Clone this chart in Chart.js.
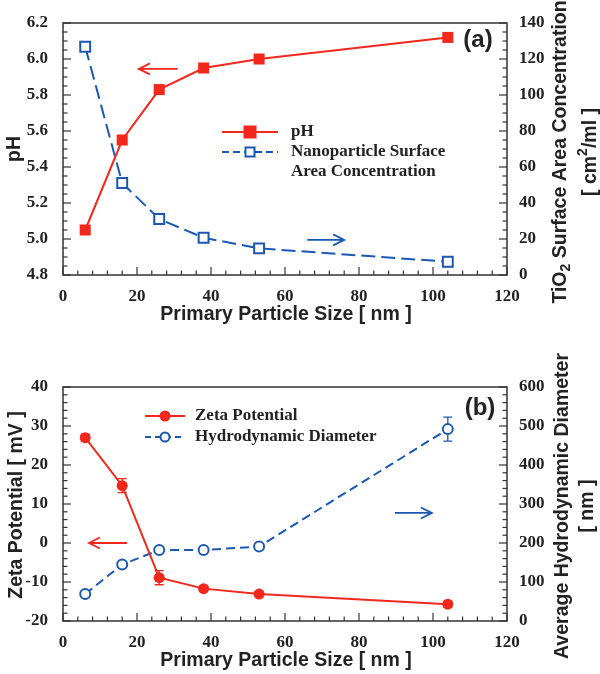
<!DOCTYPE html>
<html>
<head>
<meta charset="utf-8">
<script src="https://cdn.jsdelivr.net/npm/chart.js@4.4.1/dist/chart.umd.min.js"></script>
<style>
  html, body { margin: 0; padding: 0; background: #fff; }
  .panel { position: absolute; left: 0; width: 600px; }
  #wrapA { top: 0; height: 330px; }
  #wrapB { top: 330px; height: 344px; }
</style>
</head>
<body>
<div id="wrapA" class="panel"><canvas id="chartA" width="600" height="330"></canvas></div>
<div id="wrapB" class="panel"><canvas id="chartB" width="600" height="344"></canvas></div>
<script>
// primary particle size [nm]
var sizes = [6, 16, 26, 38, 53, 104];

// panel (a)
var phValues = [5.05, 5.55, 5.83, 5.95, 6.00, 6.12];
var areaValues = [126.8, 51.1, 31.1, 20.7, 14.8, 7.4];

// panel (b)
var zetaValues = [27.0, 14.7, -8.9, -11.7, -13.1, -15.7];
var zetaErrors = [0.9, 1.8, 1.8, 0.6, 0.6, 0.8];
var diameterValues = [69, 145, 182, 182, 191, 492];
var diameterErrors = [0, 0, 6, 0, 0, 31];

var xTicks = [0, 20, 40, 60, 80, 100, 120];

var red = '#f2281c';
var blue = '#1b58b4';
var ink = '#222';
var serif = '"Liberation Serif", "Times New Roman", serif';
var sans = '"Liberation Sans", Arial, sans-serif';
var titleSize = 19.5;

function pts(xs, ys) {
  return xs.map(function (x, i) { return { x: x, y: ys[i] }; });
}

// draws a text made of pieces (normal / sub / sup), centred on x=0, baseline y=0
function richText(ctx, parts, size) {
  var small = Math.round(size * 0.7);
  var w = 0;
  parts.forEach(function (p) {
    ctx.font = 'bold ' + (p.s ? small : size) + 'px ' + sans;
    p.w = ctx.measureText(p.t).width;
    w += p.w;
  });
  var x = -w / 2;
  ctx.textAlign = 'left';
  ctx.textBaseline = 'alphabetic';
  parts.forEach(function (p) {
    ctx.font = 'bold ' + (p.s ? small : size) + 'px ' + sans;
    var dy = p.s === 'sub' ? size * 0.22 : (p.s === 'sup' ? -size * 0.45 : 0);
    ctx.fillText(p.t, x, dy);
    x += p.w;
  });
}

function arrow(ctx, x1, y1, x2, y2, color) {
  var dir = x2 > x1 ? 1 : -1;
  ctx.save();
  ctx.strokeStyle = color;
  ctx.lineWidth = 1.8;
  ctx.beginPath();
  ctx.moveTo(x1, y1);
  ctx.lineTo(x2, y2);
  ctx.moveTo(x2 - dir * 11, y2 - 5.5);
  ctx.lineTo(x2, y2);
  ctx.lineTo(x2 - dir * 11, y2 + 5.5);
  ctx.stroke();
  ctx.restore();
}

function marker(ctx, style, filled, color, x, y, size) {
  ctx.save();
  ctx.lineWidth = 2;
  ctx.strokeStyle = color;
  ctx.fillStyle = filled ? color : '#fff';
  ctx.beginPath();
  if (style === 'rect') ctx.rect(x - size / 2, y - size / 2, size, size);
  else ctx.arc(x, y, size / 2, 0, Math.PI * 2);
  ctx.fill();
  ctx.stroke();
  ctx.restore();
}

function makePanel(canvasId, spec) {
  var decorations = {
    id: 'decor' + canvasId,
    beforeDatasetsDraw: function (chart) {
      var ctx = chart.ctx;
      (spec.errors || []).forEach(function (e) {
        var meta = chart.getDatasetMeta(e.dataset);
        var sc = chart.scales[e.axis];
        ctx.save();
        ctx.strokeStyle = e.color;
        ctx.lineWidth = 1.3;
        meta.data.forEach(function (pt, i) {
          var v = e.values[i], err = e.errors[i];
          if (!err) return;
          var yt = sc.getPixelForValue(v + err), yb = sc.getPixelForValue(v - err);
          ctx.beginPath();
          ctx.moveTo(pt.x, yt); ctx.lineTo(pt.x, yb);
          ctx.moveTo(pt.x - 4.5, yt); ctx.lineTo(pt.x + 4.5, yt);
          ctx.moveTo(pt.x - 4.5, yb); ctx.lineTo(pt.x + 4.5, yb);
          ctx.stroke();
        });
        ctx.restore();
      });
    },
    afterDraw: function (chart) {
      var ctx = chart.ctx, a = chart.chartArea;
      ctx.save();
      // frame
      ctx.strokeStyle = '#333';
      ctx.lineWidth = 1.5;
      ctx.strokeRect(a.left, a.top, a.right - a.left, a.bottom - a.top);
      // inward ticks
      ctx.lineWidth = 1.2;
      Object.keys(spec.ticks).forEach(function (id) {
        var t = spec.ticks[id], sc = chart.scales[id];
        var n = Math.round((sc.max - sc.min) / t.minor);
        for (var i = 0; i <= n; i++) {
          var v = sc.min + i * t.minor;
          var isMajor = Math.abs(v / t.major - Math.round(v / t.major)) < 1e-6;
          var len = isMajor ? 8 : 4.5;
          var p = sc.getPixelForValue(v);
          ctx.beginPath();
          if (id === 'x') { ctx.moveTo(p, a.bottom); ctx.lineTo(p, a.bottom - len); }
          else if (id === 'y') { ctx.moveTo(a.left, p); ctx.lineTo(a.left + len, p); }
          else { ctx.moveTo(a.right, p); ctx.lineTo(a.right - len, p); }
          ctx.stroke();
        }
      });
      ctx.restore();

      // axis titles
      ctx.save();
      ctx.fillStyle = ink;
      ctx.textAlign = 'center';
      ctx.textBaseline = 'alphabetic';
      ctx.font = 'bold ' + titleSize + 'px ' + sans;
      ctx.fillText('Primary Particle Size [ nm ]', (a.left + a.right) / 2 + 1, spec.xTitleY);
      ctx.save();
      ctx.translate(spec.yTitleX, spec.yTitleCy);
      ctx.rotate(-Math.PI / 2);
      ctx.fillText(spec.yTitle, 0, 0);
      ctx.restore();
      spec.y2Title.forEach(function (line, k) {
        ctx.save();
        ctx.translate(spec.y2TitleX[k], spec.y2TitleCy);
        ctx.rotate(-Math.PI / 2);
        richText(ctx, line, titleSize);
        ctx.restore();
      });
      // panel tag
      ctx.font = 'bold 24px ' + sans;
      ctx.textAlign = 'center';
      ctx.textBaseline = 'middle';
      ctx.fillText(spec.tag, spec.tagPos[0], spec.tagPos[1]);
      ctx.restore();

      // arrows (data coordinates)
      spec.arrows.forEach(function (ar) {
        var sx = chart.scales.x, sy = chart.scales[ar.axis];
        arrow(ctx, sx.getPixelForValue(ar.from), sy.getPixelForValue(ar.y),
          sx.getPixelForValue(ar.to), sy.getPixelForValue(ar.y), ar.color);
      });

      // legend
      var lg = spec.legend;
      lg.items.forEach(function (it, k) {
        var y = lg.rows[k];
        ctx.save();
        ctx.strokeStyle = it.color;
        ctx.lineWidth = 2;
        ctx.setLineDash(it.dash || []);
        ctx.beginPath();
        ctx.moveTo(lg.x1, y); ctx.lineTo(lg.x2, y);
        ctx.stroke();
        ctx.setLineDash([]);
        marker(ctx, it.style, it.filled, it.color, (lg.x1 + lg.x2) / 2, y, it.size);
        ctx.fillStyle = ink;
        ctx.font = 'bold 17px ' + serif;
        ctx.textAlign = 'left';
        ctx.textBaseline = 'middle';
        it.lines.forEach(function (txt, j) {
          ctx.fillText(txt, lg.textX, y + j * lg.lineGap);
        });
        ctx.restore();
      });
    }
  };

  function fixWidth(w) { return function (s) { s.width = w; }; }

  return new Chart(document.getElementById(canvasId), {
    type: 'line',
    data: { datasets: spec.datasets },
    options: {
      responsive: false,
      animation: false,
      events: [],
      layout: { padding: { top: spec.top, left: 0, right: 0, bottom: 0 } },
      plugins: { legend: { display: false }, tooltip: { enabled: false } },
      scales: {
        x: {
          type: 'linear', min: 0, max: 120,
          afterFit: function (s) { s.height = spec.xHeight; },
          afterBuildTicks: function (s) { s.ticks = xTicks.map(function (v) { return { value: v }; }); },
          grid: { display: false }, border: { display: false },
          ticks: { color: ink, font: { family: serif, size: 17, weight: 'bold' }, padding: 3, maxRotation: 0, autoSkip: false }
        },
        y: {
          type: 'linear', position: 'left', min: spec.yRange[0], max: spec.yRange[1],
          afterFit: fixWidth(63),
          grid: { display: false }, border: { display: false },
          ticks: {
            stepSize: spec.yStep, color: ink, padding: 7, autoSkip: false,
            font: { family: serif, size: 17, weight: 'bold' },
            callback: function (v) { return v.toFixed(spec.yDecimals); }
          }
        },
        y2: {
          type: 'linear', position: 'right', min: spec.y2Range[0], max: spec.y2Range[1],
          afterFit: fixWidth(93),
          grid: { display: false }, border: { display: false },
          ticks: {
            stepSize: spec.y2Step, color: ink, padding: 4, autoSkip: false,
            font: { family: serif, size: 17, weight: 'bold' }
          }
        }
      }
    },
    plugins: [decorations]
  });
}

makePanel('chartA', {
  top: 23, xHeight: 55,
  yRange: [4.8, 6.2], yStep: 0.2, yDecimals: 1,
  y2Range: [0, 140], y2Step: 20,
  ticks: { x: { minor: 4, major: 20 }, y: { minor: 0.05, major: 0.2 }, y2: { minor: 5, major: 20 } },
  xTitleY: 320, yTitle: 'pH', yTitleX: 20, yTitleCy: 149,
  y2Title: [
    [{ t: 'TiO' }, { t: '2', s: 'sub' }, { t: ' Surface Area Concentration' }],
    [{ t: '[ cm' }, { t: '2', s: 'sup' }, { t: '/ml ]' }]
  ],
  y2TitleX: [566, 596], y2TitleCy: 152,
  tag: '(a)', tagPos: [478, 40],
  arrows: [
    { from: 31, to: 20.5, y: 5.945, axis: 'y', color: red },
    { from: 66, to: 76, y: 19.5, axis: 'y2', color: blue }
  ],
  legend: {
    x1: 222, x2: 278, textX: 291, rows: [132, 152], lineGap: 19.5,
    items: [
      { lines: ['pH'], color: red, style: 'rect', filled: true, size: 11 },
      { lines: ['Nanoparticle Surface', 'Area Concentration'], color: blue, style: 'rect', filled: false, size: 9, dash: [7, 4] }
    ]
  },
  datasets: [
    {
      label: 'pH', data: pts(sizes, phValues), yAxisID: 'y',
      borderColor: red, borderWidth: 2, backgroundColor: red,
      pointStyle: 'rect', pointRadius: 7.8, pointBorderWidth: 0, pointBackgroundColor: red
    },
    {
      label: 'Nanoparticle Surface Area Concentration', data: pts(sizes, areaValues), yAxisID: 'y2',
      borderColor: blue, borderWidth: 2, borderDash: [14, 6],
      pointStyle: 'rect', pointRadius: 7, pointBorderWidth: 2, pointBorderColor: blue, pointBackgroundColor: '#fff'
    }
  ]
});

makePanel('chartB', {
  top: 57, xHeight: 53,
  yRange: [-20, 40], yStep: 10, yDecimals: 0,
  y2Range: [0, 600], y2Step: 100,
  ticks: { x: { minor: 4, major: 20 }, y: { minor: 2, major: 10 }, y2: { minor: 20, major: 100 } },
  xTitleY: 336, yTitle: 'Zeta Potential [ mV ]', yTitleX: 22, yTitleCy: 175,
  y2Title: [
    [{ t: 'Average Hydrodynamic Diameter' }],
    [{ t: '[ nm ]' }]
  ],
  y2TitleX: [568, 593], y2TitleCy: 176,
  tag: '(b)', tagPos: [480, 78],
  arrows: [
    { from: 17.3, to: 7, y: 0, axis: 'y', color: red },
    { from: 89.7, to: 99.7, y: 277, axis: 'y2', color: blue }
  ],
  legend: {
    x1: 145, x2: 185, textX: 195, rows: [86, 107], lineGap: 20,
    items: [
      { lines: ['Zeta Potential'], color: red, style: 'circle', filled: true, size: 9 },
      { lines: ['Hydrodynamic Diameter'], color: blue, style: 'circle', filled: false, size: 9, dash: [6, 4] }
    ]
  },
  errors: [
    { dataset: 0, axis: 'y', values: zetaValues, errors: zetaErrors, color: red },
    { dataset: 1, axis: 'y2', values: diameterValues, errors: diameterErrors, color: blue }
  ],
  datasets: [
    {
      label: 'Zeta Potential', data: pts(sizes, zetaValues), yAxisID: 'y',
      borderColor: red, borderWidth: 2,
      pointStyle: 'circle', pointRadius: 5.5, pointBorderWidth: 0, pointBackgroundColor: red
    },
    {
      label: 'Hydrodynamic Diameter', data: pts(sizes, diameterValues), yAxisID: 'y2',
      borderColor: blue, borderWidth: 2, borderDash: [9, 5],
      pointStyle: 'circle', pointRadius: 5, pointBorderWidth: 2, pointBorderColor: blue, pointBackgroundColor: '#fff'
    }
  ]
});
</script>
</body>
</html>
